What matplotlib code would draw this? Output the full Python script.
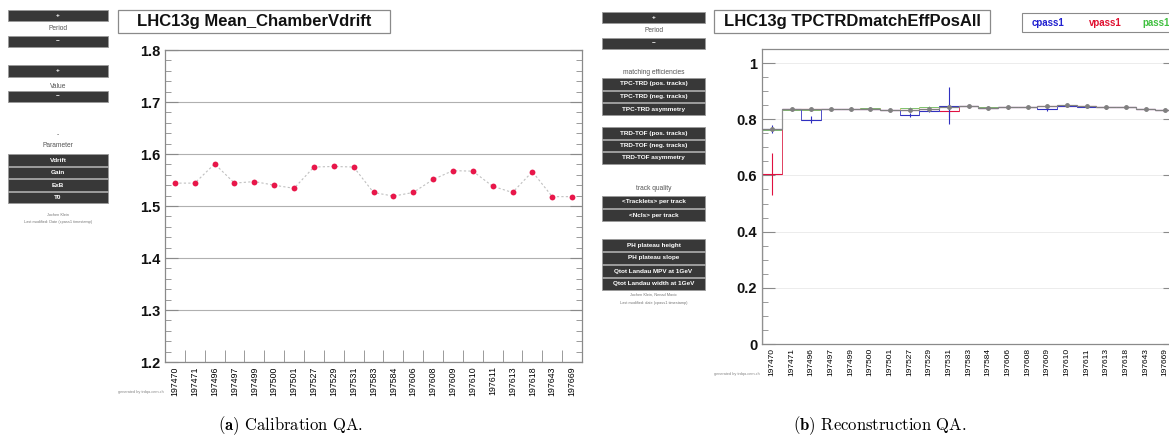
import matplotlib
matplotlib.use("Agg")
import matplotlib.pyplot as plt
from matplotlib.patches import Rectangle
from matplotlib.ticker import MultipleLocator, FixedLocator
import numpy as np

W, H = 1169, 438

# =============================
# Data
# =============================
runs = ["197470", "197471", "197496", "197497", "197499", "197500", "197501",
        "197527", "197529", "197531", "197583", "197584", "197606", "197608",
        "197609", "197610", "197611", "197613", "197618", "197643", "197669"]

# (a) mean chamber vdrift per run
vdrift = [1.544, 1.544, 1.581, 1.544, 1.547, 1.540, 1.534, 1.575, 1.576, 1.575,
          1.526, 1.519, 1.526, 1.551, 1.568, 1.567, 1.538, 1.526, 1.566, 1.518, 1.518]

# (b) TPC-TRD matching efficiency, positive tracks
eff_main = [0.765, 0.836, 0.836, 0.836, 0.838, 0.836, 0.834, 0.832, 0.836, 0.842, 0.846,
            0.840, 0.842, 0.844, 0.846, 0.850, 0.846, 0.842, 0.844, 0.836, 0.834]
eff_main_err = [0.008, 0.004, 0.004, 0.004, 0.004, 0.004, 0.004, 0.004, 0.004, 0.006, 0.005,
                0.004, 0.004, 0.004, 0.004, 0.004, 0.004, 0.004, 0.004, 0.004, 0.004]
eff_cpass1 = [0.765, 0.836, 0.798, 0.836, 0.836, 0.836, 0.832, 0.815, 0.830, 0.848, 0.846,
              0.840, 0.842, 0.844, 0.838, 0.848, 0.844, 0.842, 0.844, 0.836, 0.834]
eff_cpass1_err = [0.015, 0.004, 0.012, 0.004, 0.004, 0.004, 0.004, 0.006, 0.005, 0.065, 0.005,
                  0.004, 0.004, 0.004, 0.008, 0.004, 0.004, 0.004, 0.004, 0.004, 0.004]
eff_vpass1 = [0.605, 0.836, 0.836, 0.836, 0.836, 0.836, 0.834, 0.832, 0.836, 0.830, 0.846,
              0.840, 0.842, 0.844, 0.846, 0.848, 0.846, 0.842, 0.844, 0.836, 0.834]
eff_vpass1_err = [0.075, 0.004, 0.004, 0.004, 0.004, 0.004, 0.004, 0.004, 0.004, 0.025, 0.005,
                  0.004, 0.004, 0.004, 0.004, 0.004, 0.004, 0.004, 0.004, 0.004, 0.004]
eff_pass1 = [0.760, 0.834, 0.834, 0.836, 0.838, 0.840, 0.834, 0.840, 0.842, 0.842, 0.846,
             0.842, 0.842, 0.844, 0.846, 0.850, 0.846, 0.842, 0.844, 0.836, 0.834]

legend_names = ["cpass1", "vpass1", "pass1"]
legend_colors = ["#2020d0", "#e01030", "#40c040"]

menu_left = [("btn", 10, 21, "+"), ("lbl", 29, "Period"), ("btn", 36, 47, "\u2212"),
             ("btn", 65, 77, "+"), ("lbl", 86, "Value"), ("btn", 91, 102, "\u2212"),
             ("lbl", 135, "-"), ("lbl", 146, "Parameter"),
             ("btn", 154, 166, "Vdrift"), ("btn", 167, 178, "Gain"),
             ("btn", 179, 191, "ExB"), ("btn", 192, 203, "T0"),
             ("tiny", 215, "Jochen Klein"),
             ("tiny", 222, "Last modified: Date (cpass1 timestamp)")]
menu_right = [("btn", 12, 23, "+"), ("lbl", 30, "Period"), ("btn", 38, 49, "\u2212"),
              ("lbl", 72, "matching efficiencies"),
              ("btn", 78, 90, "TPC-TRD (pos. tracks)"), ("btn", 91, 102, "TPC-TRD (neg. tracks)"),
              ("btn", 103, 115, "TPC-TRD asymmetry"),
              ("btn", 127, 139, "TRD-TOF (pos. tracks)"), ("btn", 140, 151, "TRD-TOF (neg. tracks)"),
              ("btn", 152, 164, "TRD-TOF asymmetry"),
              ("lbl", 188, "track quality"),
              ("btn", 196, 208, "<Tracklets> per track"), ("btn", 209, 221, "<Ncls> per track"),
              ("btn", 239, 251, "PH plateau height"), ("btn", 252, 264, "PH plateau slope"),
              ("btn", 265, 277, "Qtot Landau MPV at 1GeV"), ("btn", 278, 290, "Qtot Landau width at 1GeV"),
              ("tiny", 295, "Jochen Klein, Nenad Mavic"),
              ("tiny", 303, "Last modified: date (cpass1 timestamp)")]

# =============================
# Helpers (pixel -> figure coords)
# =============================
def fx(x):
    return x / W

def fy(y):
    return 1 - y / H

fig = plt.figure(figsize=(W / 100, H / 100), dpi=100)
fig.patch.set_facecolor("white")
SANS = ["Liberation Sans", "DejaVu Sans"]


def draw_menu(items, x0, x1):
    xc = (x0 + x1) / 2
    for it in items:
        if it[0] == "btn":
            _, y0, y1, label = it
            fig.patches.append(Rectangle((fx(x0), fy(y1)), (x1 - x0) / W, (y1 - y0) / H,
                                         transform=fig.transFigure, facecolor="#383838",
                                         edgecolor="#9a9a9a", linewidth=0.6))
            fig.text(fx(xc), fy((y0 + y1) / 2), label, color="white", fontsize=4.6,
                     fontweight="bold", ha="center", va="center", family=SANS)
        elif it[0] == "lbl":
            fig.text(fx(xc), fy(it[1]), it[2], color="#555555", fontsize=4.8,
                     ha="center", va="center", family=SANS)
        else:
            fig.text(fx(xc), fy(it[1]), it[2], color="#777777", fontsize=2.8,
                     ha="center", va="center", family=SANS)


def title_box(x0, x1, y0, y1, text):
    fig.patches.append(Rectangle((fx(x0), fy(y1)), (x1 - x0) / W, (y1 - y0) / H,
                                 transform=fig.transFigure, facecolor="white",
                                 edgecolor="#8a8a8a", linewidth=0.9))
    fig.text(fx((x0 + x1) / 2), fy((y0 + y1) / 2), text, fontsize=12, fontweight="bold",
             ha="center", va="center", family=SANS, color="#111111")


def style_axes(ax, edge_ticks=True):
    for s in ax.spines.values():
        s.set_color("#8a8a8a")
        s.set_linewidth(0.9)
    ax.tick_params(axis="y", which="both", direction="in", left=True, right=True,
                   colors="#8a8a8a", labelcolor="#111111")
    ax.tick_params(axis="y", which="major", length=9, labelsize=10.5)
    ax.tick_params(axis="y", which="minor", length=4.5)
    for lab in ax.get_yticklabels():
        lab.set_fontweight("bold")
        lab.set_family(SANS)
    n = len(runs)
    ax.set_xlim(0, n)
    ax.xaxis.set_major_locator(FixedLocator(np.arange(n) + 0.5))
    ax.set_xticklabels(runs, rotation=90, fontsize=6.3, family=SANS)
    ax.tick_params(axis="x", which="major", length=0, pad=3)
    if edge_ticks:
        ax.xaxis.set_minor_locator(FixedLocator(np.arange(1, n)))
        ax.tick_params(axis="x", which="minor", direction="in", length=9, colors="#8a8a8a")


x = np.arange(len(runs)) + 0.5
edges = np.arange(len(runs) + 1)

# =============================
# (a) Calibration QA
# =============================
draw_menu(menu_left, 8, 108)
title_box(118, 390, 10, 33, "LHC13g Mean_ChamberVdrift")

ax1 = fig.add_axes([fx(165), fy(362), (582 - 165) / W, (362 - 50) / H])
ax1.set_ylim(1.2, 1.8)
ax1.yaxis.set_minor_locator(MultipleLocator(0.02))
ax1.set_yticks(np.arange(1.2, 1.81, 0.1))
ax1.set_yticklabels([f"{v:.1f}" for v in np.arange(1.2, 1.81, 0.1)])
ax1.grid(axis="y", which="major", color="#b0b0b0", linewidth=0.8)
ax1.plot(x, vdrift, linestyle=(0, (2, 2)), color="#c0c0c0", linewidth=0.8, zorder=2)
ax1.plot(x, vdrift, "o", color="#e8174a", markersize=4.2, markeredgewidth=0, zorder=3)
style_axes(ax1)
fig.text(fx(141), fy(392), "generated by trdqa.cern.ch", fontsize=2.8, color="#888888",
         ha="center", va="center", family=SANS)

# =============================
# (b) Reconstruction QA
# =============================
draw_menu(menu_right, 602, 705)
title_box(714, 990, 10, 33, "LHC13g TPCTRDmatchEffPosAll")

# legend box (cut at the right edge, as in the screenshot)
fig.patches.append(Rectangle((fx(1022), fy(32)), (1200 - 1022) / W, 19 / H,
                             transform=fig.transFigure, facecolor="white",
                             edgecolor="#8a8a8a", linewidth=0.8, clip_on=False))
for name, col, xl in zip(legend_names, legend_colors, [1048, 1105, 1156]):
    fig.text(fx(xl), fy(22.5), name, color=col, fontsize=7, fontweight="bold",
             ha="center", va="center", family=SANS)

ax2 = fig.add_axes([fx(762), fy(344), (1175 - 762) / W, (344 - 49) / H])
ax2.set_ylim(0, 1.05)
ax2.set_yticks([0, 0.2, 0.4, 0.6, 0.8, 1.0])
ax2.set_yticklabels(["0", "0.2", "0.4", "0.6", "0.8", "1"])
ax2.yaxis.set_minor_locator(MultipleLocator(0.05))
ax2.grid(axis="y", which="major", color="#ececec", linewidth=0.7)

ax2.stairs(eff_pass1, edges, color="#d8d870", linewidth=0.7, zorder=2)
ax2.errorbar(x, eff_pass1, xerr=0.5, yerr=0.004, fmt="none", ecolor="#70c070",
             elinewidth=0.6, zorder=2)
ax2.stairs(eff_vpass1, edges, color="#e04060", linewidth=0.7, zorder=3)
ax2.errorbar(x, eff_vpass1, xerr=0.5, yerr=eff_vpass1_err, fmt="none", ecolor="#e01040",
             elinewidth=0.8, zorder=3)
ax2.stairs(eff_cpass1, edges, color="#5050c8", linewidth=0.7, zorder=4)
ax2.errorbar(x, eff_cpass1, xerr=0.5, yerr=eff_cpass1_err, fmt="none", ecolor="#3030c0",
             elinewidth=0.8, zorder=4)
ax2.stairs(eff_main, edges, color="#909090", linewidth=0.9, zorder=5)
ax2.errorbar(x, eff_main, xerr=0.5, yerr=eff_main_err, fmt="o", color="#808080",
             markersize=2.5, elinewidth=0.7, zorder=5)
style_axes(ax2, edge_ticks=False)
for lab in ax2.get_xticklabels():
    lab.set_fontsize(6.0)
fig.text(fx(737), fy(374), "generated by trdqa.cern.ch", fontsize=2.8, color="#888888",
         ha="center", va="center", family=SANS)

# =============================
# captions
# =============================
plt.rcParams["mathtext.fontset"] = "cm"
fig.text(fx(291), fy(426), r"$\mathbf{(a)}$ Calibration QA.", fontsize=12,
         family="cmr10", ha="center", va="center")
fig.text(fx(880), fy(426), r"$\mathbf{(b)}$ Reconstruction QA.", fontsize=12,
         family="cmr10", ha="center", va="center")

fig.savefig("out.png", dpi=100)
